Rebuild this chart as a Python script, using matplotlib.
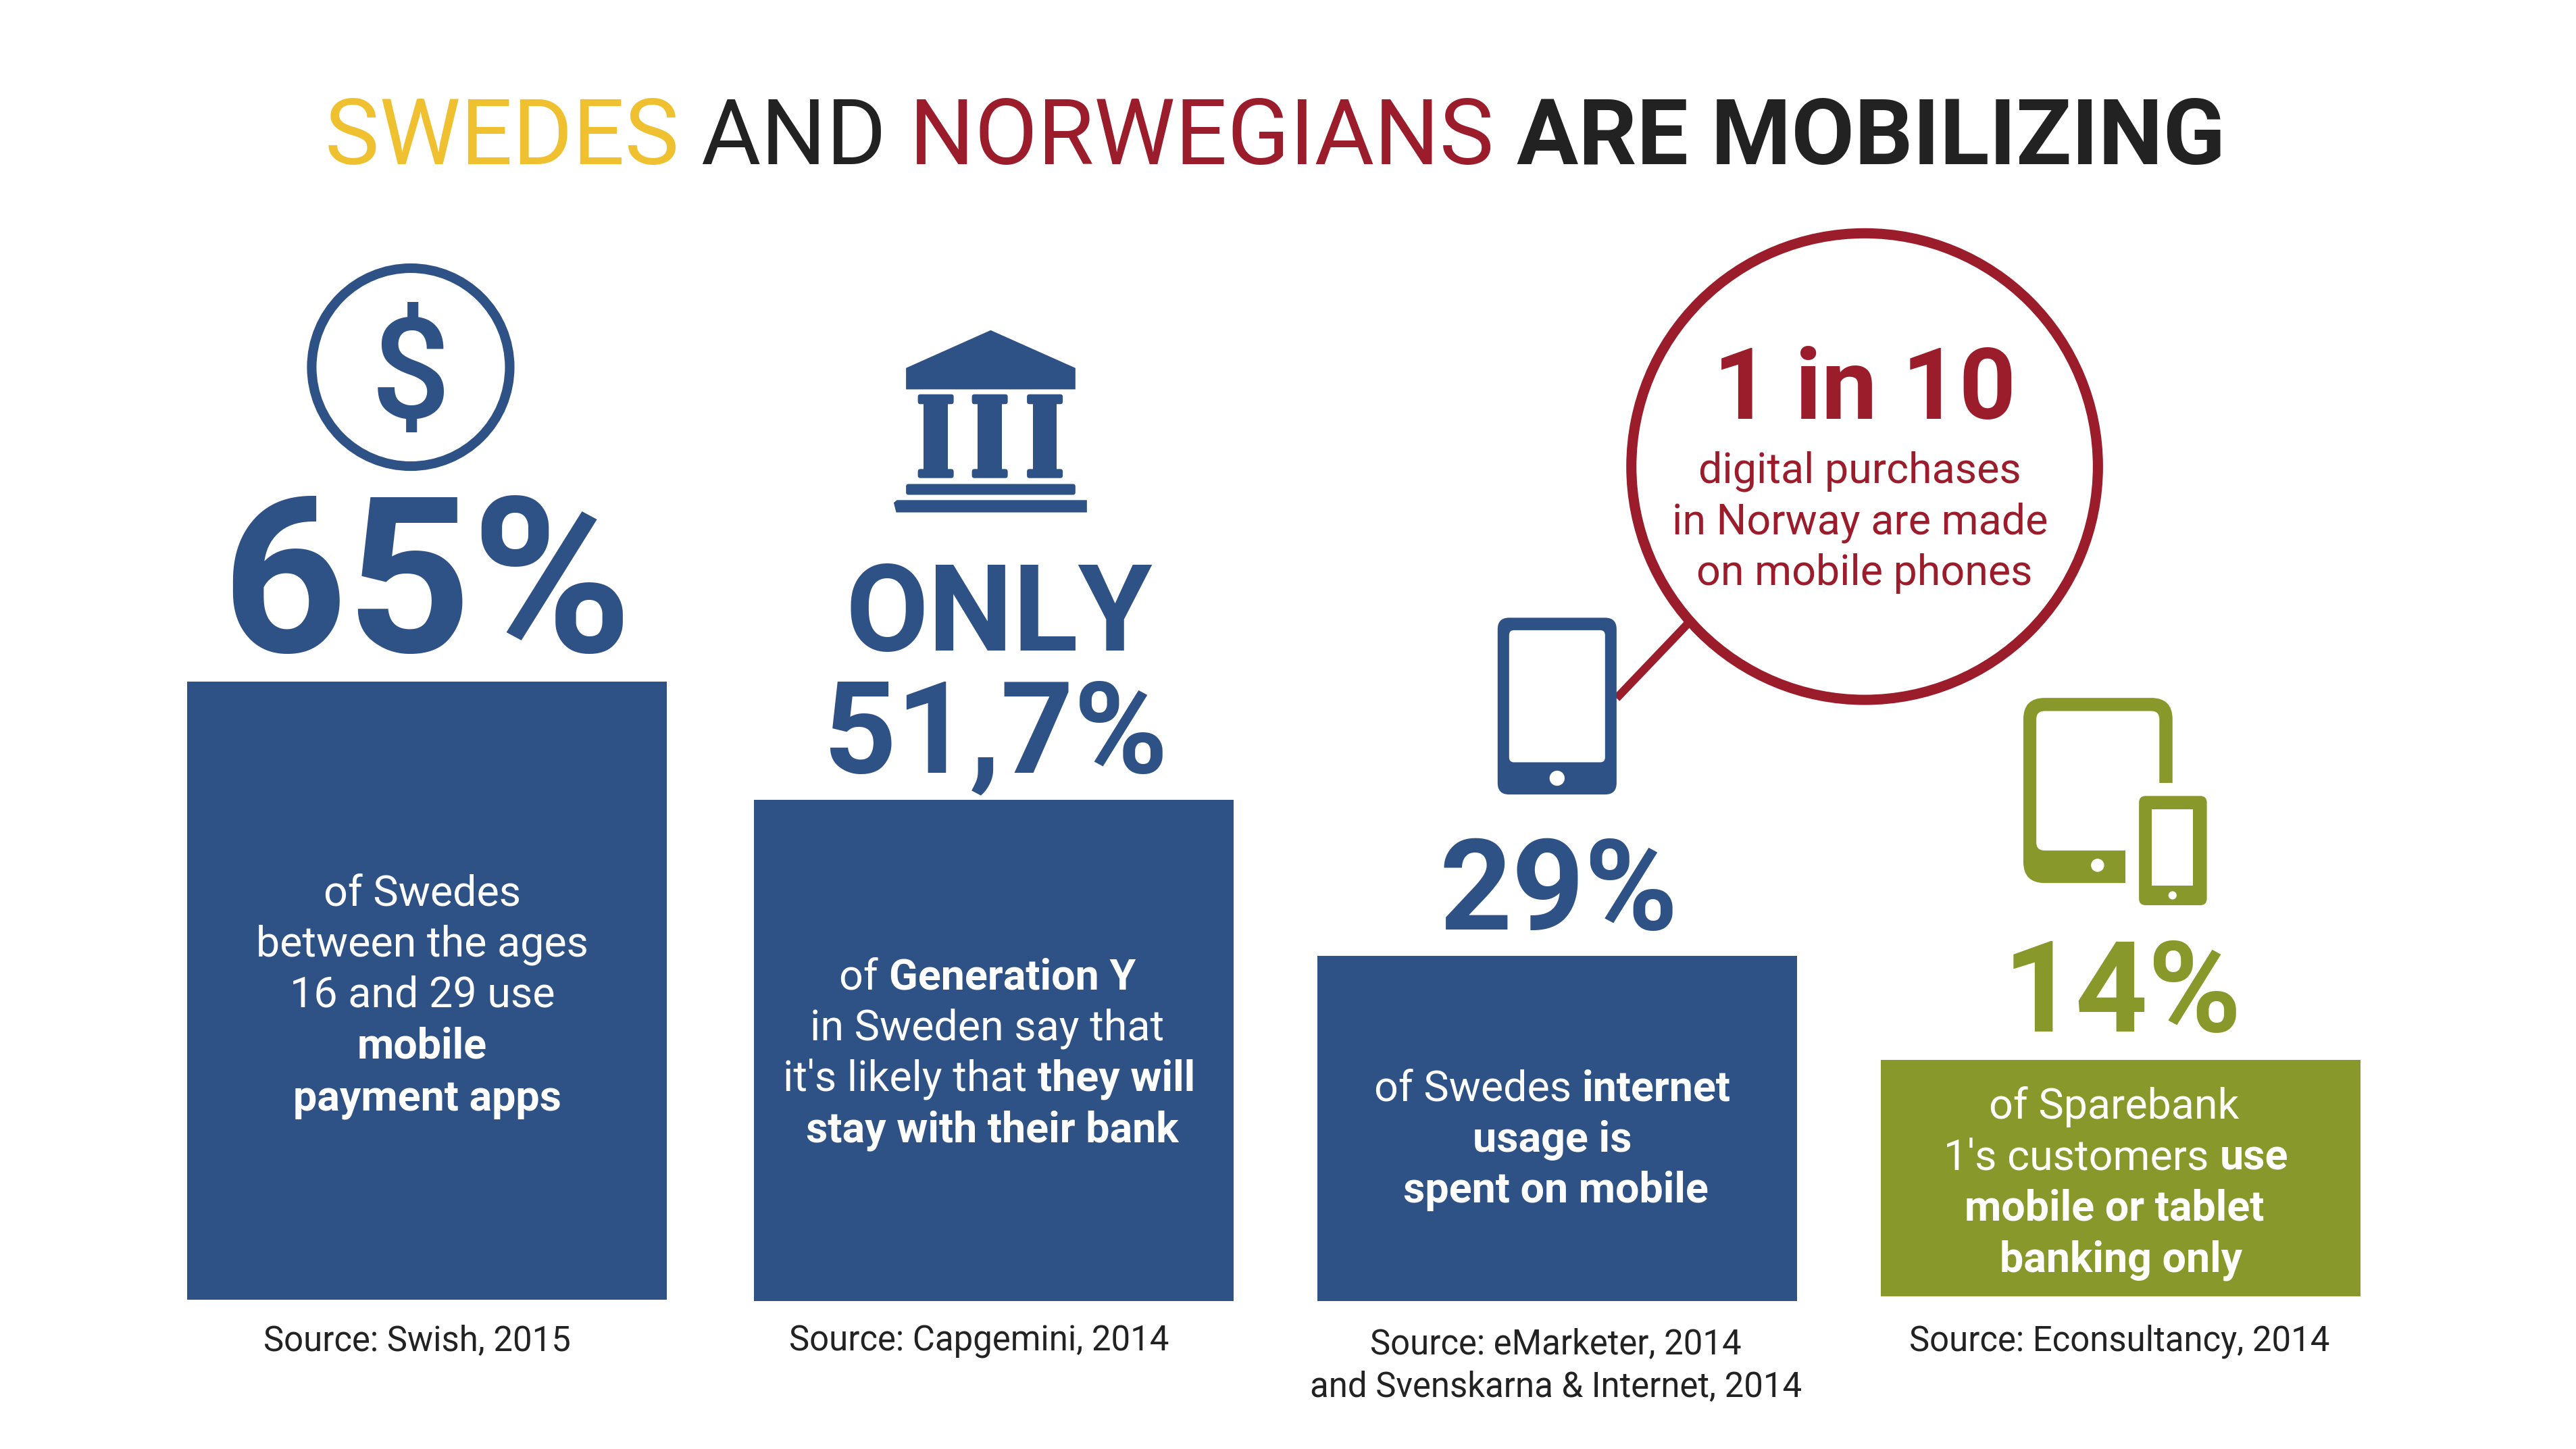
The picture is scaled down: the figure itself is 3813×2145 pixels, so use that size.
import matplotlib
matplotlib.use("Agg")
import matplotlib.pyplot as plt
from matplotlib.patches import Circle, Ellipse, FancyBboxPatch, Polygon, Rectangle

plt.rcParams['font.family'] = ['Roboto', 'DejaVu Sans']

BLUE = "#2F5286"
RED = "#9B1C2A"
YELLOW = "#EFC130"
GREEN = "#88982A"
DARK = "#222222"

# bars, heights as drawn in the picture (not proportional to the percentages)
bar_centers = [260, 605, 948, 1291]
bar_heights = [376, 305, 210, 144]
bar_bases = [791, 792, 792, 789]
bar_colors = [BLUE, BLUE, BLUE, GREEN]

big_labels = ["65%", "ONLY", "51,7%", "29%", "14%"]
sources = ["Source: Swish, 2015", "Source: Capgemini, 2014",
           "Source: eMarketer, 2014", "and Svenskarna & Internet, 2014",
           "Source: Econsultancy, 2014"]

fig = plt.figure(figsize=(38.13, 21.45), dpi=100)
ax = fig.add_axes([0, 0, 1, 1])
ax.set_xlim(0, 1568)
ax.set_ylim(882, 0)
ax.axis('off')

renderer = fig.canvas.get_renderer()
PT = 72 / 100 * 3813 / 1568  # points per axis unit


def seg_width(s, **kw):
    # wrap in x so that spaces at the ends are counted
    t1 = ax.text(0, 0, "x" + s + "x", **kw)
    t2 = ax.text(0, 0, "xx", **kw)
    w = t1.get_window_extent(renderer).width - t2.get_window_extent(renderer).width
    t1.remove()
    t2.remove()
    return w * 1568 / 3813


def rich_line(xc, y, segs, size):
    total = sum(seg_width(s, fontsize=size, fontweight=w) for s, w, c in segs)
    x = xc - total / 2
    for s, w, c in segs:
        ax.text(x, y, s, fontsize=size, fontweight=w, color=c, ha='left', va='baseline')
        x += seg_width(s, fontsize=size, fontweight=w)


# title
rich_line(776, 100, [("SWEDES ", 'normal', YELLOW), ("AND ", 'normal', DARK),
                     ("NORWEGIANS ", 'normal', RED), ("ARE MOBILIZING", 'bold', DARK)], 97.6)

# bars
ax.bar(bar_centers, [-h for h in bar_heights], width=292, bottom=bar_bases, color=bar_colors)

# big numbers
for (s, x, y, size, c) in [(big_labels[0], 260, 397, 232, BLUE), (big_labels[1], 608, 396, 128, BLUE),
                           (big_labels[2], 606, 470, 136, BLUE), (big_labels[3], 949, 566, 135, BLUE),
                           (big_labels[4], 1292, 628, 135, GREEN)]:
    ax.text(x, y, s, fontsize=size, fontweight='bold', color=c, ha='center', va='baseline')

# text in the bars
W = "white"
body = 45.2
for xc, y, segs in [
    (257, 551, [("of Swedes", 'normal', W)]),
    (257, 582, [("between the ages", 'normal', W)]),
    (257, 613, [("16 and 29 use", 'normal', W)]),
    (257, 644, [("mobile", 'bold', W)]),
    (260, 676, [("payment apps", 'bold', W)]),
    (601, 602, [("of ", 'normal', W), ("Generation Y", 'bold', W)]),
    (601, 633, [("in Sweden say that", 'normal', W)]),
    (602, 664, [("it's likely that ", 'normal', W), ("they will", 'bold', W)]),
    (604, 695, [("stay with their bank", 'bold', W)]),
    (945, 670, [("of Swedes ", 'normal', W), ("internet", 'bold', W)]),
    (945, 701, [("usage is", 'bold', W)]),
    (947, 732, [("spent on mobile", 'bold', W)]),
    (1287, 681, [("of Sparebank", 'normal', W)]),
    (1288, 712, [("1's customers ", 'normal', W), ("use", 'bold', W)]),
    (1287, 743, [("mobile or tablet", 'bold', W)]),
    (1291, 774, [("banking only", 'bold', W)]),
]:
    rich_line(xc, y, segs, body)

# sources
for s, x, y in zip(sources, [254, 596, 947, 947, 1290], [822, 822, 824, 850, 822]):
    ax.text(x, y, s, fontsize=36.6, color=DARK, ha='center', va='baseline')

# callout circle
ax.plot([984, 1027], [425, 380], color=RED, lw=5 * PT, solid_capstyle='butt', zorder=1)
ax.add_patch(Ellipse((1135, 284), 284, 284, fc='white', ec=RED, lw=6.2 * PT, zorder=2))
ax.text(1135, 255, "1 in 10", fontsize=106, fontweight='bold', color=RED, ha='center', va='baseline', zorder=3)
for s, x, y in [("digital purchases", 1132, 294), ("in Norway are made", 1132, 325), ("on mobile phones", 1135, 356)]:
    ax.text(x, y, s, fontsize=body, color=RED, ha='center', va='baseline', zorder=3)

# dollar icon
ax.add_patch(Ellipse((250, 223.5), 120.5, 120.5, fc='none', ec=BLUE, lw=5.8 * PT))
ax.text(250, 222, "$", fontsize=150, fontweight='medium', color=BLUE, ha='center', va='center_baseline')


def rbox(x0, y0, x1, y1, r, **kw):
    ax.add_patch(FancyBboxPatch((x0 + r, y0 + r), x1 - x0 - 2 * r, y1 - y0 - 2 * r,
                                boxstyle=f"round,pad={r},rounding_size={r}", lw=0, **kw))


# bank icon
ax.add_patch(Polygon([(603, 201), (654.6, 224), (654.6, 237), (551.5, 237), (551.5, 224)], fc=BLUE, lw=0))
for xc in [569.6, 602.5, 636]:
    ax.add_patch(Rectangle((xc - 7.35, 246), 14.7, 40, fc=BLUE, lw=0))
    rbox(xc - 10.9, 240, xc + 10.9, 246, 1.5, fc=BLUE)
    rbox(xc - 10.9, 285.5, xc + 10.9, 291, 1.5, fc=BLUE)
rbox(551.5, 294.6, 654.6, 301.2, 1.5, fc=BLUE)
ax.add_patch(Polygon([(544, 306), (546, 304.4), (661.6, 304.4), (661.6, 311.9), (545.5, 311.9)], fc=BLUE, lw=0))

# phone icon
rbox(911.6, 376, 984, 483.6, 7, fc=BLUE, zorder=3)
rbox(918.6, 383.6, 977, 464, 3, fc='white', zorder=3)
ax.add_patch(Circle((947.8, 473.7), 4.6, fc='white', lw=0, zorder=3))

# tablet + phone icon
rbox(1231.6, 424.8, 1322.4, 537.5, 13, fc=GREEN)
rbox(1239.5, 432.8, 1314.4, 517.7, 5, fc='white')
ax.add_patch(Rectangle((1293.6, 476.6), 40, 70, fc='white', lw=0))
ax.add_patch(Circle((1276.8, 526.7), 4, fc='white', lw=0))
rbox(1302, 484.5, 1343.3, 551, 4, fc=GREEN)
ax.add_patch(Rectangle((1309.8, 492.6), 25.2, 46.4, fc='white', lw=0))
ax.add_patch(Circle((1322.4, 545), 2.5, fc='white', lw=0))

fig.savefig("out.png", dpi=100, facecolor='white')
